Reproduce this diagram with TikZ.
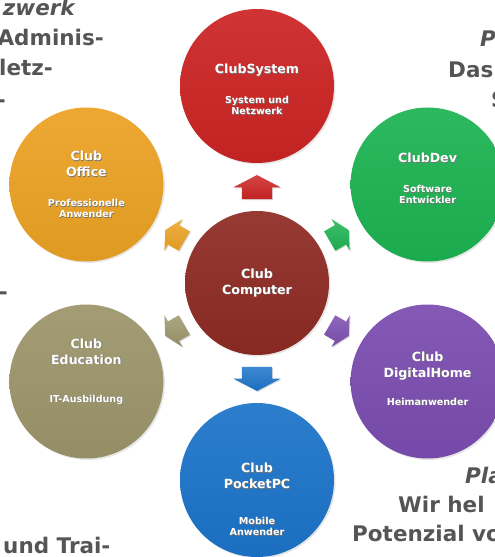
\documentclass[tikz,border=0pt]{standalone}
\usepackage{fontspec}
\newfontfamily\djv{DejaVu Sans}
\usetikzlibrary{calc,shadows,shapes.arrows,positioning}

\definecolor{sysred}{HTML}{CC2424}
\definecolor{hubred}{HTML}{8E2B24}
\definecolor{devgreen}{HTML}{1DB352}
\definecolor{offorange}{HTML}{EBA224}
\definecolor{edukhaki}{HTML}{9C956B}
\definecolor{homepurple}{HTML}{7B4DB0}
\definecolor{pocketblue}{HTML}{1C74C9}
\definecolor{sidegray}{HTML}{555555}

\newcommand{\shad}[1]{\rlap{\hspace{0.6pt}\raisebox{-0.6pt}{\textcolor{black!55}{#1}}}#1}
\newcommand{\clubtitle}[1]{{\fontsize{12.6}{11}\selectfont\shad{#1}}}
\newcommand{\clubsub}[1]{\shad{#1}}

\begin{document}
\begin{tikzpicture}[x=1pt,y=1pt,
  club/.style={circle, inner sep=0, minimum size=154pt, top color=#1!93!white, bottom color=#1!95!black,
    drop shadow={opacity=0.2, shadow xshift=1.5pt, shadow yshift=-1.5pt},
    text=white, align=center, font=\djv\bfseries\fontsize{9.6}{11}\selectfont},
  fat/.style={single arrow, inner xsep=0, inner ysep=15pt, single arrow head extend=8.5pt, single arrow tip angle=125,
    minimum height=24pt, sloped, allow upside down, pos=0.467,
    top color=#1!85!white, bottom color=#1!95!black,
    drop shadow={opacity=0.3, shadow xshift=1pt, shadow yshift=-1pt}},
  slim/.style={inner ysep=11pt, minimum height=22pt, single arrow head extend=7pt},
  side/.style={inner sep=0, text=sidegray, font=\djv\bfseries\fontsize{21.5}{30}\selectfont}]
  \useasboundingbox (0,0) rectangle (495,557);
  \clip (0,0) rectangle (495,557);

  % text around the picture
  \node[side, anchor=base east] (t1) at (75,541) {\itshape zwerk};
  \node[side, anchor=base east] (t2) at (104,511) {Adminis-};
  \node[side, anchor=base east] (t3) at (53,481) {letz-};
  \node[side, anchor=base east] (t4) at (6,449) {-};
  \node[side, anchor=base east] (t5) at (8,257) {-};
  \node[side, anchor=base west] (t6) at (3,3) {und Trai-};
  \node[side, anchor=base west] (r1) at (480,510) {\itshape P};
  \node[side, anchor=base west] (r2) at (448,479) {Das};
  \node[side, anchor=base west] (r3) at (491,449) {S};
  \node[side, anchor=base west] (r4) at (465,73) {\itshape Pla};
  \node[side, anchor=base west] (r5) at (398,44) {Wir hel};
  \node[side, anchor=base west] (r6) at (352,15) {Potenzial vo};

  \node[club=hubred, minimum size=144pt] (cc) at (257,274) {\clubtitle{Club}\\[5pt]\clubtitle{Computer}};

  % the rules only shift the text inside a circle
  \node[club=sysred] (sys) at ($(cc)+(90:197)$) {\rule{0pt}{17pt}\clubtitle{ClubSystem}\\[19pt]\clubsub{System und}\\\clubsub{Netzwerk}};
  \node[club=devgreen] (dev) at ($(cc)+(30:197)$) {\clubtitle{ClubDev}\\[19pt]\clubsub{Software}\\\clubsub{Entwickler}\rule[-12pt]{0pt}{12pt}};
  \node[club=offorange] (off) at ($(cc)+(150:197)$) {\clubtitle{Club}\\[5pt]\clubtitle{Office}\\[19pt]\clubsub{Professionelle}\\\clubsub{Anwender}};
  \node[club=edukhaki] (edu) at ($(cc)+(210:197)$) {\clubtitle{Club}\\[5pt]\clubtitle{Education}\\[27pt]\clubsub{IT-Ausbildung}\rule[-22pt]{0pt}{22pt}};
  \node[club=homepurple] (home) at ($(cc)+(330:197)$) {\clubtitle{Club}\\[5pt]\clubtitle{DigitalHome}\\[17pt]\clubsub{Heimanwender}\rule[-6pt]{0pt}{6pt}};
  \node[club=pocketblue] (pocket) at ($(cc)+(270:197)$) {\rule{0pt}{49pt}\clubtitle{Club}\\[5pt]\clubtitle{PocketPC}\\[25pt]\clubsub{Mobile}\\\clubsub{Anwender}};

  \path (cc.center) -- node[fat=sysred] {} (sys.center);
  \path (cc.center) -- node[fat=pocketblue] {} (pocket.center);
  \path (cc.center) -- node[fat=devgreen, slim] {} (dev.center);
  \path (cc.center) -- node[fat=offorange, slim] {} (off.center);
  \path (cc.center) -- node[fat=edukhaki, slim] {} (edu.center);
  \path (cc.center) -- node[fat=homepurple, slim] {} (home.center);
\end{tikzpicture}
\end{document}
